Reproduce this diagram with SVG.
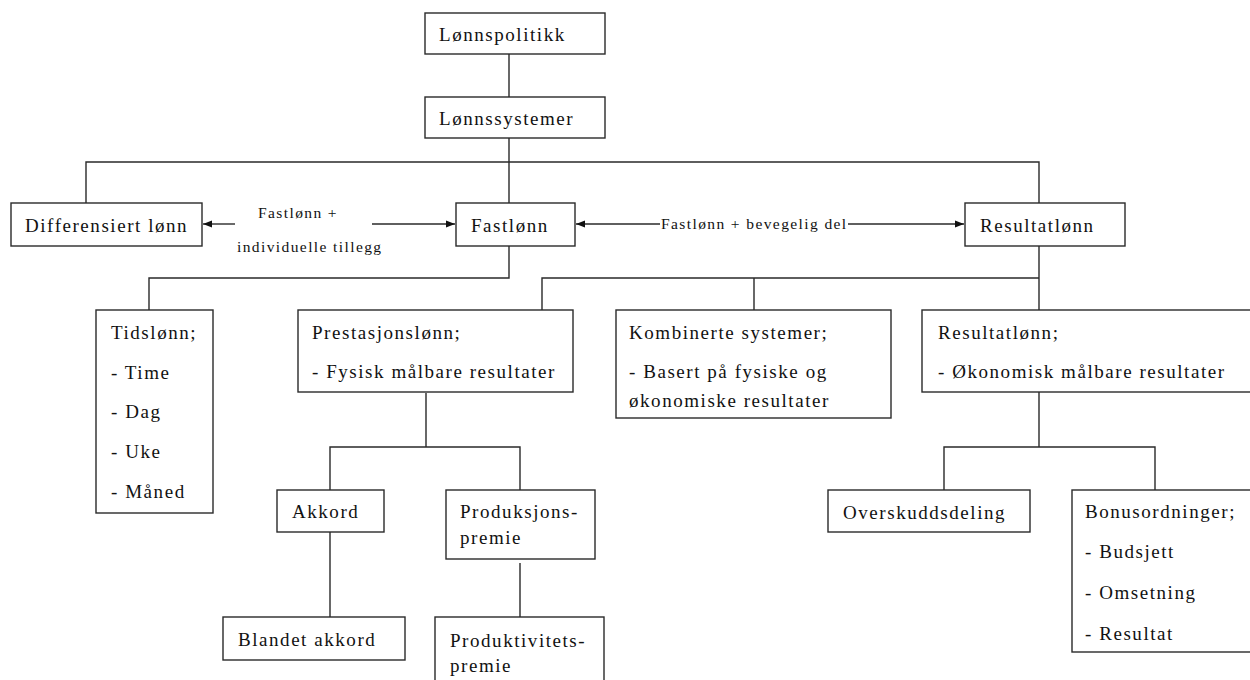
<svg xmlns="http://www.w3.org/2000/svg" width="1250" height="680" viewBox="0 0 1250 680">
<defs>
<style>
.box{fill:#fff;stroke:#2a2a2a;stroke-width:1.4}
.t{font-family:"Liberation Serif","Times New Roman",serif;font-size:19px;letter-spacing:1.55px;fill:#111}
.s{font-family:"Liberation Serif","Times New Roman",serif;font-size:15.5px;letter-spacing:1.4px;fill:#111}
.c{fill:none;stroke:#2a2a2a;stroke-width:1.4}
</style>
<marker id="ah" viewBox="0 0 10 8" refX="10" refY="4" markerWidth="9" markerHeight="7.5" markerUnits="userSpaceOnUse" orient="auto">
<path d="M0,0 L10,4 L0,8 z" fill="#111"/>
</marker>
</defs>
<rect width="1250" height="680" fill="#fff"/>
<g id="connectors">
<path class="c" d="M509,54 V97 M509,138 V203 M86,203 V162 H1039 V203"/>
<path class="c" d="M509,246 V278 H149 V310"/>
<path class="c" d="M1039,246 V310 M542,310 V278 H1039 M754,278 V310"/>
<path class="c" d="M426,393 V447 M330,490 V447 H520 V490"/>
<path class="c" d="M330,532 V617 M520,563 V617"/>
<path class="c" d="M1039,392 V447 M944,490 V447 H1155 V490"/>
<line class="c" x1="235" y1="224" x2="203" y2="224" marker-end="url(#ah)"/>
<line class="c" x1="372" y1="224" x2="455" y2="224" marker-end="url(#ah)"/>
<line class="c" x1="660" y1="224" x2="576" y2="224" marker-end="url(#ah)"/>
<line class="c" x1="848" y1="224" x2="964" y2="224" marker-end="url(#ah)"/>
<text class="s" x="258" y="218">Fastlønn +</text>
<text class="s" x="237" y="252">individuelle tillegg</text>
<text class="s" x="661" y="229">Fastlønn + bevegelig del</text>
</g>
<g id="n-lonnspolitikk"><rect class="box" x="425" y="13" width="180" height="41"/><text class="t" x="439" y="41">Lønnspolitikk</text></g>
<g id="n-lonnssystemer"><rect class="box" x="425" y="97" width="180" height="41"/><text class="t" x="439" y="125">Lønnssystemer</text></g>
<g id="n-differensiert"><rect class="box" x="11" y="203" width="191" height="43"/><text class="t" x="25" y="232">Differensiert lønn</text></g>
<g id="n-fastlonn"><rect class="box" x="456" y="203" width="119" height="43"/><text class="t" x="471" y="232">Fastlønn</text></g>
<g id="n-resultatlonn"><rect class="box" x="965" y="203" width="160" height="43"/><text class="t" x="980" y="232">Resultatlønn</text></g>
<g id="n-tidslonn"><rect class="box" x="96" y="310" width="117" height="203"/>
<text class="t" x="111" y="339">Tidslønn;</text>
<text class="t" x="111" y="379">- Time</text>
<text class="t" x="111" y="418">- Dag</text>
<text class="t" x="111" y="458">- Uke</text>
<text class="t" x="111" y="498">- Måned</text></g>
<g id="n-prestasjonslonn"><rect class="box" x="298" y="310" width="275" height="82"/>
<text class="t" x="312" y="339">Prestasjonslønn;</text>
<text class="t" x="312" y="378">- Fysisk målbare resultater</text></g>
<g id="n-kombinerte"><rect class="box" x="616" y="310" width="275" height="108"/>
<text class="t" x="629" y="339">Kombinerte systemer;</text>
<text class="t" x="629" y="378">- Basert på fysiske og</text>
<text class="t" x="629" y="407">økonomiske resultater</text></g>
<g id="n-resultatlonn2"><rect class="box" x="922" y="310" width="332" height="82"/>
<text class="t" x="938" y="339">Resultatlønn;</text>
<text class="t" x="938" y="378">- Økonomisk målbare resultater</text></g>
<g id="n-akkord"><rect class="box" x="277" y="490" width="107" height="42"/><text class="t" x="292" y="518">Akkord</text></g>
<g id="n-produksjonspremie"><rect class="box" x="446" y="490" width="149" height="69"/>
<text class="t" x="460" y="518">Produksjons-</text>
<text class="t" x="460" y="544">premie</text></g>
<g id="n-blandet"><rect class="box" x="223" y="617" width="182" height="43"/><text class="t" x="238" y="646">Blandet akkord</text></g>
<g id="n-produktivitetspremie"><rect class="box" x="435" y="617" width="169" height="70"/>
<text class="t" x="450" y="647">Produktivitets-</text>
<text class="t" x="450" y="672">premie</text></g>
<g id="n-overskudd"><rect class="box" x="828" y="490" width="202" height="42"/><text class="t" x="843" y="519">Overskuddsdeling</text></g>
<g id="n-bonus"><rect class="box" x="1072" y="490" width="182" height="162"/>
<text class="t" x="1085" y="518">Bonusordninger;</text>
<text class="t" x="1085" y="558">- Budsjett</text>
<text class="t" x="1085" y="599">- Omsetning</text>
<text class="t" x="1085" y="640">- Resultat</text></g>
</svg>
